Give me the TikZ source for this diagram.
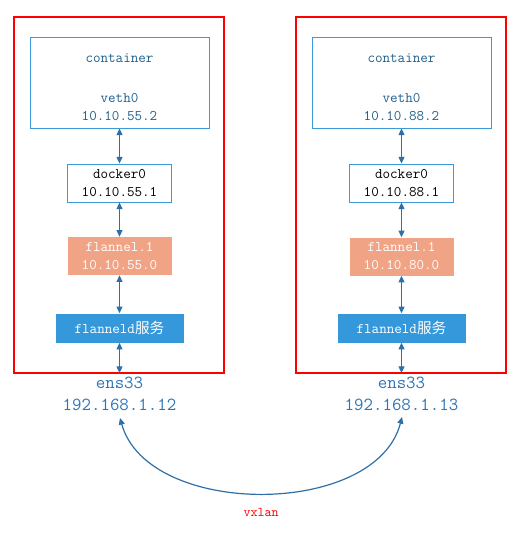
\documentclass[tikz,border=0pt]{standalone}
\usepackage{fontspec}
\newfontfamily\cjk{Noto Sans CJK SC}
\usetikzlibrary{arrows.meta}
\definecolor{hostred}{RGB}{255,0,0}
\definecolor{boxblue}{RGB}{58,154,217}
\definecolor{ctblue}{RGB}{31,95,139}
\definecolor{linkblue}{RGB}{46,111,167}
\definecolor{flsalmon}{RGB}{241,163,133}
\definecolor{fdblue}{RGB}{52,152,219}
\definecolor{ensblue}{RGB}{46,117,182}
\tikzset{
  host/.style={draw=hostred, line width=0.8pt},
  ctbox/.style={draw=boxblue, line width=0.75pt, minimum width=134.25pt, minimum height=67.5pt},
  dkbox/.style={draw=boxblue, line width=0.75pt, minimum width=78pt, minimum height=28.5pt, align=center, font=\ttfamily\fontsize{11}{13.5}\selectfont},
  flbox/.style={fill=flsalmon, text=white, minimum width=78pt, minimum height=28.5pt, align=center, font=\ttfamily\fontsize{11}{13.5}\selectfont},
  fdbox/.style={fill=fdblue, text=white, minimum width=96pt, minimum height=21.75pt, font=\ttfamily\fontsize{11}{13.5}\selectfont},
  cttext/.style={text=ctblue, align=center, inner sep=0.75pt, font=\ttfamily\fontsize{11}{13.5}\selectfont},
  enstext/.style={text=ensblue, align=center, inner sep=0.75pt, font=\ttfamily\fontsize{13.8}{16.5}\selectfont},
  link/.style={draw=linkblue, line width=0.9pt, {Triangle[length=5pt,width=4.5pt]}-{Triangle[length=5pt,width=4.5pt]}}
}
\begin{document}
\begin{tikzpicture}[x=0.75pt,y=0.75pt,yscale=-1,xscale=1]
	\useasboundingbox (0,0) rectangle (525,535);
	
	%Shape: Rectangle [host left]
	\draw [host] (14,17) rectangle (224,373);
	%Shape: Rectangle [host right]
	\draw [host] (296,17) rectangle (506,373);
	
	% Left host nodes
	\node [ctbox] (ctA) at (119.5,83) {};
	\node [cttext] (ctAtext) at (119.5,87) {container\\[16.5pt]veth0\\10.10.55.2};
	\node [dkbox] (dkA) at (119.5,183) {docker0\\10.10.55.1};
	\node [flbox] (flA) at (119.5,256) {flannel.1\\10.10.55.0};
	\node [fdbox] (fdA) at (119.5,328) {flanneld{\cjk 服务}};
	\coordinate (hostA) at (119.5,373);
	\node [enstext] (ensA) at (119.5,394) {ens33\\192.168.1.12};
	\coordinate (vxA) at (120,418);
	
	% Right host nodes
	\node [ctbox] (ctB) at (401.5,83) {};
	\node [cttext] (ctBtext) at (401.5,87) {container\\[16.5pt]veth0\\10.10.88.2};
	\node [dkbox] (dkB) at (401.5,183) {docker0\\10.10.88.1};
	\node [flbox] (flB) at (401.5,256.5) {flannel.1\\10.10.80.0};
	\node [fdbox] (fdB) at (401.5,328) {flanneld{\cjk 服务}};
	\coordinate (hostB) at (401.5,373);
	\node [enstext] (ensB) at (401.5,393.5) {ens33\\192.168.1.13};
	\coordinate (vxB) at (402,417);
	
	%Straight Lines
	\draw [link] (ctA.south) -- (dkA.north);
	\draw [link] (dkA.south) -- (flA.north);
	\draw [link] (flA.south) -- (fdA.north);
	\draw [link] (fdA.south) -- (hostA);
	\draw [link] (ctB.south) -- (dkB.north);
	\draw [link] (dkB.south) -- (flB.north);
	\draw [link] (flB.south) -- (fdB.north);
	\draw [link] (fdB.south) -- (hostB);
	
	%Curve Lines
	\draw [link] (vxA) .. controls (148,518) and (376,518) .. (vxB);
	
	% Text Node
	\node [text=hostred, inner sep=0.75pt, font=\ttfamily\fontsize{10}{11}\selectfont] (vxlan) at (261,512) {vxlan};
	
\end{tikzpicture}
\end{document}
